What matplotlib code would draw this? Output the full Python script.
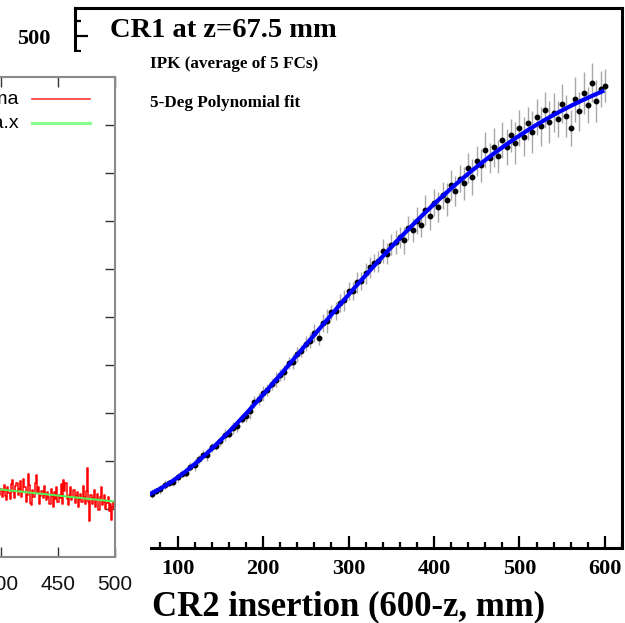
import numpy as np
import matplotlib
matplotlib.use("Agg")
import matplotlib.pyplot as plt
from matplotlib.patches import Rectangle
from matplotlib.ticker import MultipleLocator

W, H = 625, 623

# right chart: IPK vs CR2 insertion
insertion = np.arange(70, 605, 5)
ipk = [195, 197, 198, 201, 202, 203, 206, 208, 209, 213,
       214, 218, 221, 221, 226, 227, 230, 234, 235, 239,
       240, 245, 247, 250, 256, 258, 262, 264, 268, 271,
       274, 276, 282, 283, 288, 290, 295, 297, 302, 299,
       309, 310, 316, 317, 322, 324, 330, 330, 336, 337,
       342, 346, 349, 350, 357, 355, 361, 363, 366, 364,
       372, 371, 377, 374, 384, 380, 389, 386, 394, 391,
       401, 397, 405, 402, 412, 406, 417, 414, 424, 419,
       426, 420, 431, 426, 434, 429, 439, 433, 442, 436,
       446, 440, 451, 443, 449, 445, 455, 447, 439, 458,
       450, 462, 454, 469, 457, 465, 467]
ipk_err = [3, 2, 3, 3, 2, 3, 3, 2, 3, 3, 4, 3, 3, 4, 3, 3,
           3, 4, 3, 4, 4, 3, 4, 5, 4, 4, 5, 4, 4, 5, 4, 5, 4, 5, 5, 4,
           5, 5, 6, 5, 6, 8, 5, 6, 6, 7, 6, 6, 7, 6, 7, 7, 6, 7, 8, 7,
           7, 8, 7, 9, 8, 8, 9, 8, 10, 9, 9, 10, 9, 11, 10, 10, 9, 11, 10, 12,
           10, 11, 12, 10, 13, 11, 12, 12, 11, 14, 12, 13, 11, 14, 12, 13, 12, 14, 13, 12,
           13, 14, 12, 15, 13, 14, 12, 13, 14, 12, 11]

# left chart (mostly hidden behind the right one)
bin_x = np.arange(398, 501)
sigma = [0.82, 1.30, 1.42, 1.25, 1.38, 1.50, 1.28, 1.18, 1.45, 1.33,
         1.20, 1.52, 1.60, 1.35, 1.22, 1.48, 1.55, 1.30, 1.42, 1.58,
         1.25, 1.36, 1.62, 1.45, 1.15, 1.30, 1.72, 1.50, 1.12, 1.08,
         1.40, 1.26, 1.55, 1.70, 1.34, 1.46, 1.10, 1.28, 1.38, 1.22,
         1.48, 1.30, 1.18, 1.35, 1.25, 1.10, 1.42, 1.28, 1.05, 1.36,
         1.20, 1.45, 1.15, 1.30, 1.22, 1.52, 1.10, 1.60, 1.38, 1.55,
         1.20, 1.08, 1.30, 1.45, 1.18, 1.25, 1.40, 1.12, 1.28, 1.35,
         1.05, 1.20, 1.32, 1.15, 1.48, 1.25, 1.10, 1.38, 1.85, 1.15,
         0.75, 1.30, 1.10, 1.22, 1.40, 1.05, 1.18, 1.32, 0.98, 1.25,
         1.45, 1.08, 1.15, 1.30, 1.00, 1.12, 1.25, 0.95, 1.10, 0.78,
         1.05, 1.15, 1.00]
left_xticks = [300, 350, 400, 450, 500]
legend_labels = ['sigma', 'sigma.x']


def box(x0, y0, x1, y1):
    # pixel box (top-left origin) -> figure fraction rect
    return [x0 / W, 1 - y1 / H, (x1 - x0) / W, (y1 - y0) / H]


serif = 'Liberation Serif'
sans = 'Liberation Sans'

fig = plt.figure(figsize=(W / 100, H / 100), dpi=100)

# ---- right chart ----
ax = fig.add_axes(box(75, 8, 622, 548))
ax.errorbar(insertion, ipk, yerr=ipk_err, fmt='o', ms=3.2, color='black',
            ecolor='#a8a8a8', elinewidth=1, capsize=0, zorder=2)
coef = np.polyfit(insertion, ipk, 5)
xs = np.linspace(65, 597, 300)
ax.plot(xs, np.polyval(coef, xs), color='#0000ff', lw=3, zorder=3)

ax.set_xlim(-20, 620)
ax.set_ylim(158.7, 518.7)
ax.set_xticks([100, 200, 300, 400, 500, 600])
ax.xaxis.set_minor_locator(MultipleLocator(20))
ax.yaxis.set_major_locator(MultipleLocator(50))
ax.yaxis.set_minor_locator(MultipleLocator(10))
for s in ax.spines.values():
    s.set_linewidth(2.2)
ax.tick_params(which='both', direction='in', top=False, right=False, width=1.6)
ax.tick_params(which='major', length=9)
ax.tick_params(which='minor', length=4.5)
ax.tick_params(axis='x', pad=8)
ax.tick_params(axis='y', pad=18)
for lbl in ax.get_xticklabels() + ax.get_yticklabels():
    lbl.set_fontfamily(serif)
    lbl.set_fontweight('bold')
    lbl.set_fontsize(16)
ax.set_xlabel('CR2 insertion (600-z, mm)', family=serif, fontweight='bold',
              fontsize=25, labelpad=8)

fig.text(110 / W, 1 - 37 / H, 'CR1 at z=67.5 mm', family=serif,
         fontweight='bold', fontsize=20.5, va='baseline')
fig.text(150 / W, 1 - 68 / H, 'IPK (average of 5 FCs)', family=serif,
         fontweight='bold', fontsize=12.3, va='baseline')
fig.text(150 / W, 1 - 107 / H, '5-Deg Polynomial fit', family=serif,
         fontweight='bold', fontsize=12.3, va='baseline')

# white sheet of the overlapping left picture
fig.add_artist(Rectangle((0, 0), 150 / W, (H - 52) / H, transform=fig.transFigure,
                         facecolor='white', edgecolor='none', zorder=5))

# ---- left chart ----
axl = fig.add_axes(box(-113, 77, 115, 557), zorder=10)
axl.step(bin_x, sigma, where='mid', color='red', lw=1.1)
fit = np.polyfit(bin_x, sigma, 1)
axl.plot(bin_x, np.polyval(fit, bin_x), color='#55ee55', lw=1.5)
axl.set_xlim(300, 500)
axl.set_ylim(0, 10)
axl.set_xticks(left_xticks)
axl.set_yticks(range(1, 10))
axl.yaxis.tick_right()
for s in axl.spines.values():
    s.set_color('#8a8a8a')
    s.set_linewidth(1.5)
axl.tick_params(direction='in', length=7, width=1, color='#333333',
                top=True, bottom=True, right=True, left=False, labelright=False)
axl.tick_params(axis='x', pad=13, labelsize=15, labelcolor='#111111')
for lbl in axl.get_xticklabels():
    lbl.set_fontfamily(sans)

# legend of the left chart, partly cut off
leg_colors = ['#ff3333', '#88ff88']
leg_widths = [1.2, 2.2]
for i, (lab, col, lw) in enumerate(zip(legend_labels, leg_colors, leg_widths)):
    yy = 99 + 24 * i
    fig.text(19 / W, 1 - (yy + 1) / H, lab, family=sans, fontsize=14,
             ha='right', va='center', zorder=11)
    fig.add_artist(plt.Line2D([32 / W, 90 / W], [1 - yy / H, 1 - yy / H],
                              color=col, lw=lw, zorder=11))

fig.savefig('out.png', dpi=100)
